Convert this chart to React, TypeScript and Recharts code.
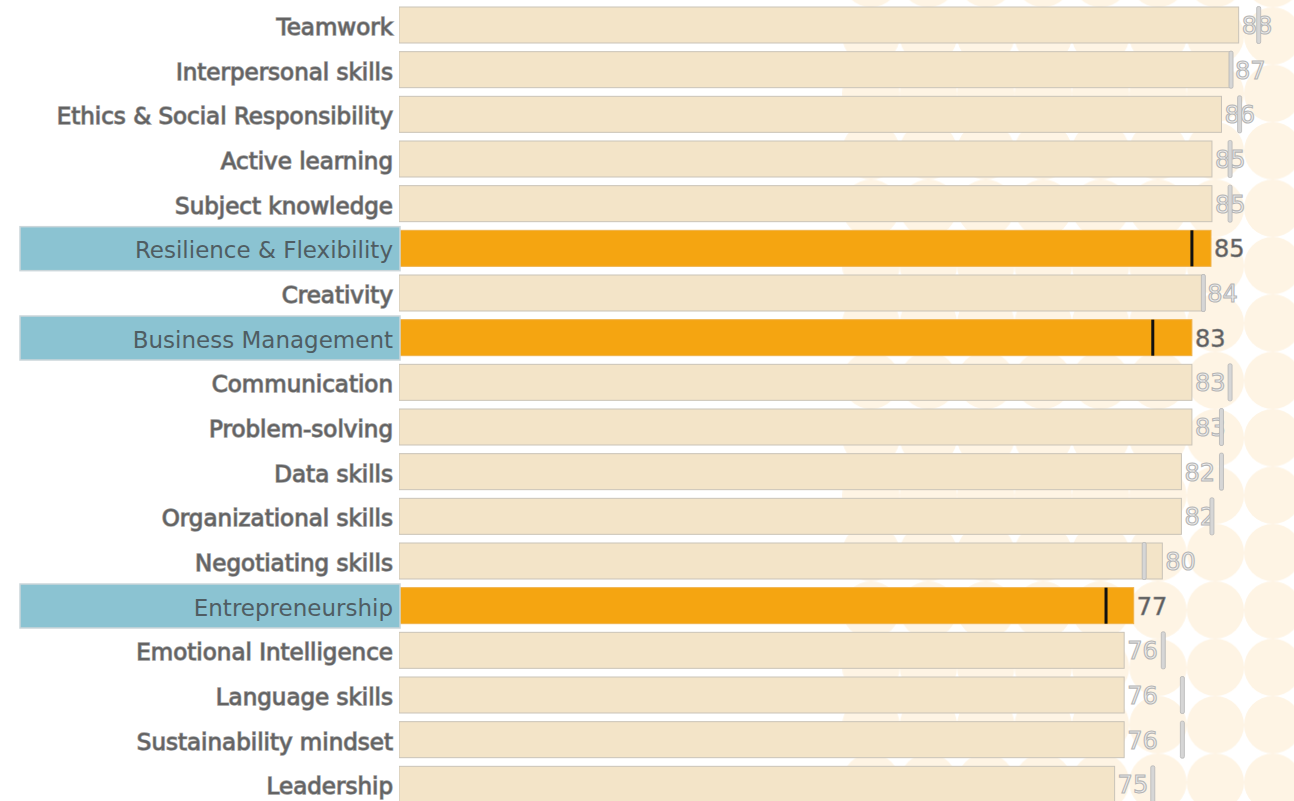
import React from 'react';
import { BarChart, Bar, XAxis, YAxis } from 'recharts';

const skills = [
  'Teamwork',
  'Interpersonal skills',
  'Ethics & Social Responsibility',
  'Active learning',
  'Subject knowledge',
  'Resilience & Flexibility',
  'Creativity',
  'Business Management',
  'Communication',
  'Problem-solving',
  'Data skills',
  'Organizational skills',
  'Negotiating skills',
  'Entrepreneurship',
  'Emotional Intelligence',
  'Language skills',
  'Sustainability mindset',
  'Leadership',
];

const scores = [88.0, 87.3, 86.2, 85.2, 85.2, 85.1, 84.4, 83.1, 83.1, 83.1, 82.0, 82.0, 80.0, 77.0, 76.0, 76.0, 76.0, 75.0];
const benchmarks = [90.1, 87.2, 88.1, 87.1, 87.1, 83.1, 84.3, 79.0, 87.1, 86.2, 86.2, 85.2, 78.1, 74.1, 80.1, 82.1, 82.1, 79.0];
const highlighted = ['Resilience & Flexibility', 'Business Management', 'Entrepreneurship'];

const data = skills.map((skill, i) => ({
  skill,
  score: scores[i],
  benchmark: benchmarks[i],
  hl: highlighted.includes(skill),
}));

const FONT = '"DejaVu Sans", sans-serif';

const BulletShape = (props: any) => {
  const { x, y, width, height, payload } = props;
  const hl = payload.hl;
  const perUnit = width / payload.score;
  const mx = x + payload.benchmark * perUnit;
  const cy = y + height / 2;
  return (
    <g>
      <rect
        x={x}
        y={y}
        width={width}
        height={height}
        fill={hl ? '#F5A511' : '#F3E4C8'}
        stroke={hl ? '#EFB24A' : '#C9C3B8'}
        strokeWidth={1}
      />
      {hl ? (
        <text
          x={x + width + 3}
          y={cy + 1}
          dominantBaseline="central"
          fontFamily={FONT}
          fontSize={24}
          fill="#5A5A5A"
          stroke="#8A8A8A"
          strokeWidth={0.6}
        >
          {Math.round(payload.score)}
        </text>
      ) : (
        <text
          x={x + width + 3}
          y={cy + 1}
          dominantBaseline="central"
          fontFamily={FONT}
          fontSize={24}
          fill="#EFEFEF"
          stroke="#B5B5B5"
          strokeWidth={1.1}
        >
          {Math.round(payload.score)}
        </text>
      )}
      {hl ? (
        <rect x={mx - 1.5} y={y} width={3} height={height} fill="#111111" />
      ) : (
        <rect x={mx - 2} y={y - 0.5} width={4} height={height + 1} rx={1.5} fill="#D6D6D6" stroke="#B5B5B5" strokeWidth={0.8} />
      )}
    </g>
  );
};

const SkillTick = (props: any) => {
  const { y, payload } = props;
  const hl = highlighted.includes(payload.value);
  return (
    <g>
      {hl && (
        <rect x={20} y={y - 22} width={380} height={44} fill="#8BC3D2" stroke="#CBD6DA" strokeWidth={1.5} />
      )}
      {hl ? (
        <text x={393} y={y + 1.5} textAnchor="end" dominantBaseline="central" fontFamily={FONT} fontSize={23} fill="#4F5D63">
          {payload.value}
        </text>
      ) : (
        <text
          x={393}
          y={y + 1.5}
          textAnchor="end"
          dominantBaseline="central"
          fontFamily={FONT}
          fontSize={23}
          fill="#636363"
          stroke="#9C9C9C"
          strokeWidth={1.4}
          paintOrder="stroke"
        >
          {payload.value}
        </text>
      )}
    </g>
  );
};

export default function App() {
  return (
    <div style={{ position: 'absolute', left: 0, top: 0, width: 1294, height: 801, overflow: 'hidden', background: '#ffffff' }}>
      <svg width={1294} height={801} style={{ position: 'absolute', left: 0, top: 0 }}>
        <defs>
          <pattern id="dots" x={842.3} y={7.3} width={57.4} height={57.4} patternUnits="userSpaceOnUse">
            <circle cx={28.7} cy={28.7} r={28.7} fill="#FEF4E4" />
          </pattern>
        </defs>
        <rect x={842} y={0} width={452} height={801} fill="url(#dots)" />
      </svg>
      <div style={{ position: 'absolute', left: 0, top: 0 }}>
        <BarChart
          width={1294}
          height={807}
          data={data}
          layout="vertical"
          margin={{ top: 3, right: 0, bottom: 0, left: 0 }}
          barCategoryGap={0}
        >
          <XAxis type="number" hide domain={[0, 93.8]} allowDataOverflow />
          <YAxis
            type="category"
            dataKey="skill"
            width={399}
            axisLine={false}
            tickLine={false}
            interval={0}
            tick={<SkillTick />}
          />
          <Bar dataKey="score" barSize={36} isAnimationActive={false} shape={<BulletShape />} />
        </BarChart>
      </div>
    </div>
  );
}
